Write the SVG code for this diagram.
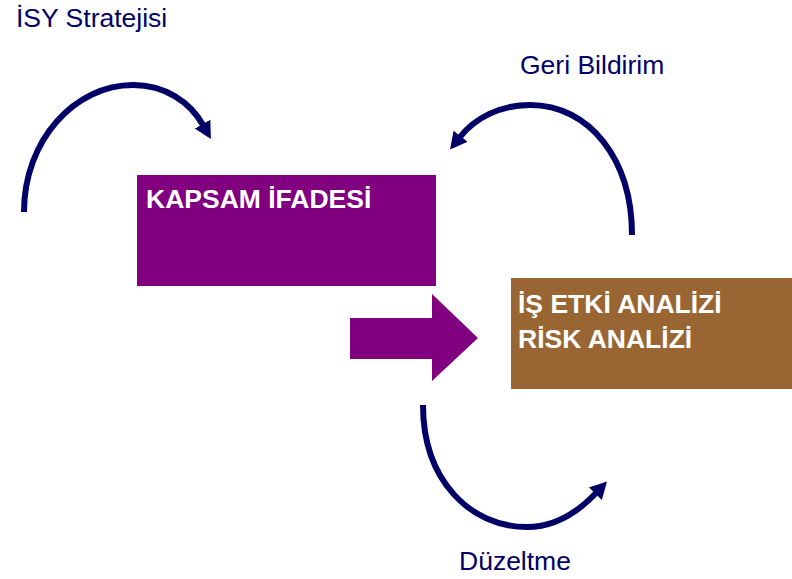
<svg xmlns="http://www.w3.org/2000/svg" width="792" height="579" viewBox="0 0 792 579">
  <style>
    .lbl { font-family: "Liberation Sans", Arial, sans-serif; font-size: 26.5px; fill: #000066; }
    .box-text { font-family: "Liberation Sans", Arial, sans-serif; font-size: 26.5px; font-weight: bold; fill: #ffffff; }
    .curve { fill: none; stroke: #000066; stroke-width: 6; marker-end: url(#head); }
  </style>
  <defs>
    <marker id="head" viewBox="0 -10 20 20" refX="1" refY="0" markerWidth="20" markerHeight="20" markerUnits="userSpaceOnUse" orient="auto">
      <path d="M0,-9 L17,0 L0,9 z" fill="#000066"/>
    </marker>
  </defs>
  <rect width="792" height="579" fill="#ffffff"/>

  <g id="kapsam">
    <rect x="137" y="175" width="299" height="111" fill="#800080"/>
    <text class="box-text" x="146" y="208">KAPSAM İFADESİ</text>
  </g>

  <g id="analiz">
    <rect x="511" y="278" width="281" height="111" fill="#996633"/>
    <text class="box-text" x="518" y="313">İŞ ETKİ ANALİZİ</text>
    <text class="box-text" x="518" y="348">RİSK ANALİZİ</text>
  </g>

  <g id="label-isy"><text class="lbl" x="16" y="27">İSY Stratejisi</text></g>
  <g id="label-geri"><text class="lbl" x="520" y="74">Geri Bildirim</text></g>
  <g id="label-duzeltme"><text class="lbl" x="459" y="570">Düzeltme</text></g>

  <g id="connectors">
    <polygon points="350,318 432,318 432,294 478,338 432,381 432,359 350,359" fill="#800080"/>
    <path class="curve" d="M24,212 C24,140 75,85 133,85 C165,85 190,102 203,125"/>
    <path class="curve" d="M632,235 C632,160 590,105 530,105 C500,105 475,118 460,137"/>
    <path class="curve" d="M423,405 C423,480 470,527 527,527 C555,527 578,512 596,493"/>
  </g>
</svg>
